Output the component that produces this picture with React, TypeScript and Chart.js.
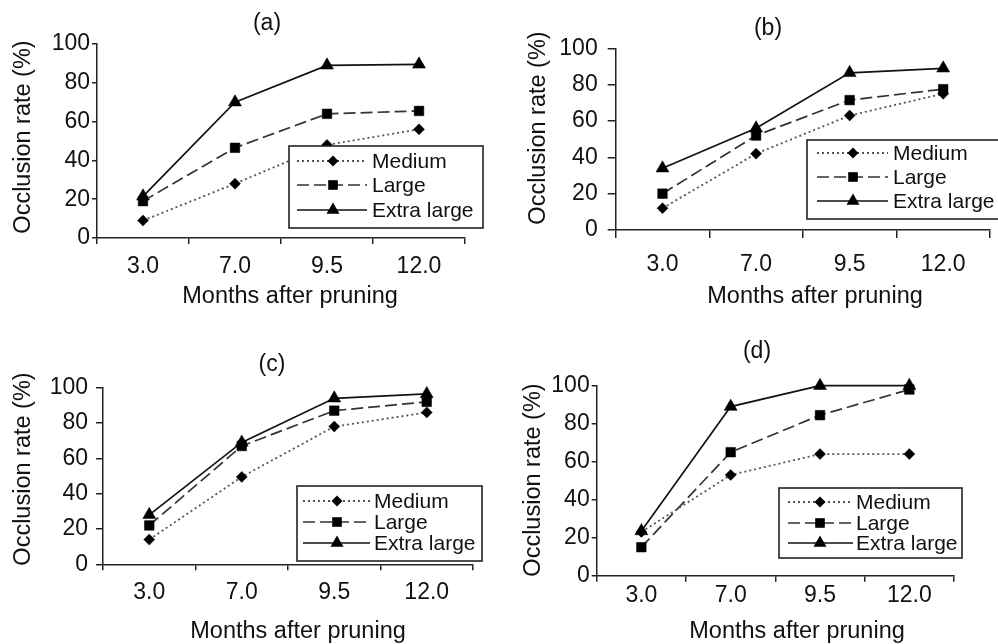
import React, { useEffect, useRef } from "react";
import { Chart, registerables } from "chart.js";

Chart.register(...registerables);

// ---------------- data ----------------
const categories = ["3.0", "7.0", "9.5", "12.0"];
const seriesNames = ["Medium", "Large", "Extra large"];
const yTicks = [0, 20, 40, 60, 80, 100];
const panelTitles = ["(a)", "(b)", "(c)", "(d)"];
const xAxisTitle = "Months after pruning";
const yAxisTitle = "Occlusion rate (%)";

const mediumA = [9, 28, 48, 56];
const largeA = [19, 46.5, 64, 65.5];
const xlargeA = [21.5, 70, 89, 89.5];

const mediumB = [12, 42, 63, 75];
const largeB = [20, 52, 71.5, 77.5];
const xlargeB = [34, 56, 86.5, 89];

const mediumC = [14, 49.5, 78, 86];
const largeC = [22, 67, 87, 92];
const xlargeC = [28, 69, 94, 96.5];

const mediumD = [23, 53, 64, 64];
const largeD = [15, 65, 84.5, 98];
const xlargeD = [23.5, 89, 100, 100];

const panelSeries = [
  [mediumA, largeA, xlargeA],
  [mediumB, largeB, xlargeB],
  [mediumC, largeC, xlargeC],
  [mediumD, largeD, xlargeD],
];

// ---------------- layout / style ----------------
const W = 998;
const H = 644;
const FONT = '"Liberation Sans", Arial, Helvetica, sans-serif';
const X_BOX = 50;
const TICK_SIZE = 23;

type Layout = {
  area: { l: number; r: number; t: number; b: number };
  yTick: { len: number; pad: number };
  xTick: { len: number; pad: number };
  title: { x: number; y: number };
  xT: { x: number; y: number };
  yT: { x: number; y: number };
  legend: {
    l: number; r: number; t: number; b: number;
    rows: number[]; lineL: number; lineR: number; mark: number; textX: number;
  };
};

const layouts: Layout[] = [
  {
    area: { l: 97, r: 465, t: 44, b: 238 },
    yTick: { len: 5, pad: 2 },
    xTick: { len: 6, pad: 9 },
    title: { x: 267, y: 24 },
    xT: { x: 290, y: 297 },
    yT: { x: 24, y: 137 },
    legend: { l: 289, r: 483, t: 146, b: 228, rows: [161, 185, 210], lineL: 297, lineR: 367, mark: 333, textX: 372 },
  },
  {
    area: { l: 615.7, r: 993, t: 48.3, b: 230 },
    yTick: { len: 8, pad: 10 },
    xTick: { len: 8, pad: 13 },
    title: { x: 768, y: 29 },
    xT: { x: 815, y: 297 },
    yT: { x: 539, y: 128 },
    legend: { l: 807, r: 1003, t: 140, b: 219, rows: [153, 177, 201], lineL: 817, lineR: 888, mark: 853, textX: 893 },
  },
  {
    area: { l: 103, r: 473, t: 387.7, b: 564.3 },
    yTick: { len: 7, pad: 8 },
    xTick: { len: 6, pad: 9 },
    title: { x: 272, y: 365 },
    xT: { x: 298, y: 632 },
    yT: { x: 24, y: 469 },
    legend: { l: 297, r: 482, t: 486, b: 561, rows: [501, 522, 543], lineL: 303, lineR: 370, mark: 337, textX: 374 },
  },
  {
    area: { l: 596.7, r: 954, t: 385.7, b: 575.7 },
    yTick: { len: 5, pad: 2 },
    xTick: { len: 6, pad: 0 },
    title: { x: 757, y: 352 },
    xT: { x: 797, y: 632 },
    yT: { x: 534, y: 480 },
    legend: { l: 779, r: 962, t: 488, b: 558, rows: [502, 523, 543], lineL: 788, lineR: 853, mark: 820, textX: 856 },
  },
];

const seriesStyles = [
  { borderColor: "#555", borderWidth: 1.8, borderDash: [2, 3], pointStyle: "rectRot", pointRadius: 5.5 },
  { borderColor: "#333", borderWidth: 1.7, borderDash: [12, 5], pointStyle: "rect", pointRadius: 6.8 },
  { borderColor: "#111", borderWidth: 1.7, borderDash: [] as number[], pointStyle: "triangle", pointRadius: 7.5 },
];

function drawMarker(ctx: CanvasRenderingContext2D, style: string, r: number, x: number, y: number) {
  ctx.beginPath();
  if (style === "rectRot") {
    ctx.moveTo(x - r, y);
    ctx.lineTo(x, y - r);
    ctx.lineTo(x + r, y);
    ctx.lineTo(x, y + r);
  } else if (style === "rect") {
    const s = Math.SQRT1_2 * r;
    ctx.rect(x - s, y - s, 2 * s, 2 * s);
  } else {
    const a = (2 * Math.PI) / 3;
    ctx.moveTo(x, y - r);
    ctx.lineTo(x + Math.sin(a) * r, y - Math.cos(a) * r);
    ctx.lineTo(x + Math.sin(2 * a) * r, y - Math.cos(2 * a) * r);
  }
  ctx.closePath();
  ctx.fillStyle = "#000";
  ctx.fill();
}

function makeDecor(lay: Layout, title: string) {
  return {
    id: "panelDecor",
    afterDraw(chart: any) {
      const ctx: CanvasRenderingContext2D = chart.ctx;
      ctx.save();
      // legend box
      const lg = lay.legend;
      ctx.fillStyle = "#fff";
      ctx.fillRect(lg.l, lg.t, lg.r - lg.l, lg.b - lg.t);
      ctx.strokeStyle = "#222";
      ctx.lineWidth = 1.6;
      ctx.setLineDash([]);
      ctx.strokeRect(lg.l, lg.t, lg.r - lg.l, lg.b - lg.t);
      chart.data.datasets.forEach((ds: any, i: number) => {
        const y = lg.rows[i];
        ctx.setLineDash(ds.borderDash || []);
        ctx.strokeStyle = ds.borderColor;
        ctx.lineWidth = ds.borderWidth;
        ctx.beginPath();
        ctx.moveTo(lg.lineL, y);
        ctx.lineTo(lg.lineR, y);
        ctx.stroke();
        ctx.setLineDash([]);
        drawMarker(ctx, ds.pointStyle, ds.pointRadius, lg.mark, y);
        ctx.fillStyle = "#111";
        ctx.font = `21px ${FONT}`;
        ctx.textAlign = "left";
        ctx.textBaseline = "middle";
        ctx.fillText(ds.label, lg.textX, y + 1);
      });
      // titles
      ctx.fillStyle = "#111";
      ctx.textAlign = "center";
      ctx.textBaseline = "middle";
      ctx.font = `23px ${FONT}`;
      ctx.fillText(title, lay.title.x, lay.title.y);
      ctx.font = `23.5px ${FONT}`;
      ctx.fillText(xAxisTitle, lay.xT.x, lay.xT.y);
      ctx.translate(lay.yT.x, lay.yT.y);
      ctx.rotate(-Math.PI / 2);
      ctx.fillText(yAxisTitle, 0, 0);
      ctx.restore();
    },
  };
}

function buildChart(canvas: HTMLCanvasElement, idx: number) {
  const lay = layouts[idx];
  const a = lay.area;
  const datasets = panelSeries[idx].map((vals, i) => ({
    label: seriesNames[i],
    data: vals,
    borderColor: seriesStyles[i].borderColor,
    borderWidth: seriesStyles[i].borderWidth,
    borderDash: seriesStyles[i].borderDash,
    pointStyle: seriesStyles[i].pointStyle,
    pointRadius: seriesStyles[i].pointRadius,
    pointBackgroundColor: "#000",
    pointBorderColor: "#000",
    pointBorderWidth: 0.5,
    fill: false,
    tension: 0,
    clip: false as any,
  }));
  return new Chart(canvas, {
    type: "line",
    data: { labels: categories, datasets: datasets as any },
    options: {
      responsive: false,
      animation: false,
      layout: {
        padding: { left: 0, top: a.t, right: W - a.r, bottom: H - a.b - X_BOX },
      },
      plugins: {
        legend: { display: false },
        tooltip: { enabled: false },
        title: { display: false },
      },
      scales: {
        x: {
          type: "category",
          offset: true,
          grid: {
            offset: true,
            drawOnChartArea: false,
            drawTicks: true,
            tickLength: lay.xTick.len,
            color: "#222",
            lineWidth: 1.5,
          },
          border: { display: true, color: "#222", width: 1.5 },
          ticks: { padding: lay.xTick.pad, color: "#111", font: { family: FONT, size: TICK_SIZE }, maxRotation: 0 },
          afterFit: (s: any) => {
            s.height = X_BOX;
          },
        },
        y: {
          min: 0,
          max: 100,
          afterBuildTicks: (s: any) => {
            s.ticks = yTicks.map((v) => ({ value: v }));
          },
          grid: {
            drawOnChartArea: false,
            drawTicks: true,
            tickLength: lay.yTick.len,
            color: "#222",
            lineWidth: 1.5,
          },
          border: { display: true, color: "#222", width: 1.5 },
          ticks: { padding: lay.yTick.pad, color: "#111", font: { family: FONT, size: TICK_SIZE } },
          afterFit: (s: any) => {
            s.width = a.l;
          },
        },
      },
    } as any,
    plugins: [makeDecor(lay, panelTitles[idx])],
  });
}

export default function App() {
  const refs = [
    useRef<HTMLCanvasElement>(null),
    useRef<HTMLCanvasElement>(null),
    useRef<HTMLCanvasElement>(null),
    useRef<HTMLCanvasElement>(null),
  ];
  useEffect(() => {
    const charts = refs.map((r, i) => buildChart(r.current as HTMLCanvasElement, i));
    return () => charts.forEach((c) => c.destroy());
  }, []);
  return (
    <div
      style={{
        position: "fixed",
        left: 0,
        top: 0,
        width: W,
        height: H,
        background: "#fff",
        overflow: "hidden",
      }}
    >
      {refs.map((r, i) => (
        <canvas
          key={i}
          ref={r}
          width={W}
          height={H}
          style={{ position: "absolute", left: 0, top: 0, width: W, height: H }}
        />
      ))}
    </div>
  );
}
